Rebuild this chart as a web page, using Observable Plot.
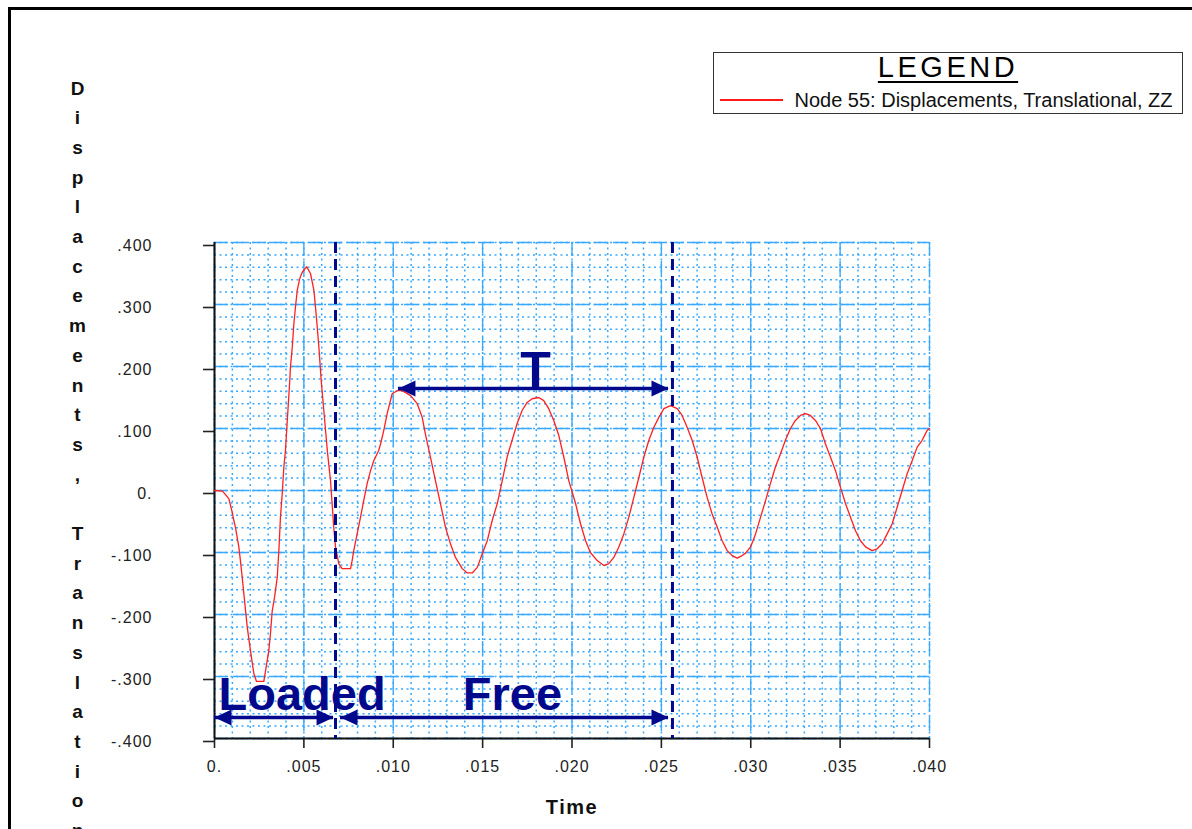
<!DOCTYPE html>
<html>
<head>
<meta charset="utf-8">
<script src="https://cdn.jsdelivr.net/npm/d3@7"></script>
<script src="https://cdn.jsdelivr.net/npm/@observablehq/plot@0.6"></script>
<style>
  html, body { margin: 0; padding: 0; background: #fff; }
  #wrap { position: relative; width: 1192px; height: 829px; overflow: hidden; font-family: "Liberation Sans", Arial, sans-serif; }
  #chart { position: absolute; left: 0; top: 0; }
  #frame { position: absolute; left: 8px; top: 7px; width: 1200px; height: 840px; border-left: 3px solid #000; border-top: 3px solid #000; pointer-events: none; }
  #legend { position: absolute; left: 713px; top: 52px; width: 468px; height: 60px; border: 1.5px solid #333; background: #fff; }
  #legend .title { position: absolute; left: 0; top: 0; width: 100%; text-align: center; font-size: 29px; line-height: 29px; letter-spacing: 3.5px; color: #000; }
  #legend .title span { text-decoration: underline; text-decoration-thickness: 2px; text-underline-offset: 4px; }
  #legend .swatch { position: absolute; left: 5.5px; top: 46px; width: 63px; height: 1.5px; background: #ff1a1a; }
  #legend .label { position: absolute; left: 80.5px; top: 36.5px; font-size: 20px; line-height: 20px; color: #111; white-space: nowrap; }
</style>
</head>
<body>
<div id="wrap">
  <div id="chart"></div>
  <div id="frame"></div>
  <div id="legend">
    <div class="title"><span>LEGEND</span></div>
    <div class="swatch"></div>
    <div class="label">Node 55: Displacements, Translational, ZZ</div>
  </div>
</div>
<script>
// ---- data ----
const time = [
  0, 0.00045, 0.00080, 0.00099, 0.00108, 0.00117, 0.00136, 0.00145, 0.00155, 0.00164,
  0.00183, 0.00201, 0.00220, 0.00235, 0.00276, 0.00304, 0.00313, 0.00323, 0.00336, 0.00351,
  0.00360, 0.00369, 0.00379, 0.00388, 0.00397, 0.00421, 0.00425, 0.00435, 0.00444, 0.00453,
  0.00463, 0.00477, 0.00491, 0.00515, 0.00537, 0.00556, 0.00565, 0.00575, 0.00584, 0.00593,
  0.00597, 0.00631, 0.00639, 0.00649, 0.00658, 0.00667, 0.00677, 0.00695, 0.00714, 0.00761,
  0.00770, 0.00779, 0.00798, 0.00817, 0.00835, 0.00854, 0.00873, 0.00891, 0.00919, 0.00929,
  0.00947, 0.00966, 0.00994, 0.01022, 0.01050, 0.01097, 0.01134, 0.01162, 0.01180, 0.01208,
  0.01236, 0.01264, 0.01292, 0.01320, 0.01348, 0.01386, 0.01414, 0.01442, 0.01470, 0.01498,
  0.01526, 0.01554, 0.01582, 0.01610, 0.01637, 0.01665, 0.01693, 0.01721, 0.01749, 0.01777,
  0.01814, 0.01842, 0.01870, 0.01898, 0.01926, 0.01954, 0.01982, 0.02020, 0.02048, 0.02076,
  0.02103, 0.02141, 0.02178, 0.02206, 0.02234, 0.02262, 0.02290, 0.02318, 0.02346, 0.02374,
  0.02402, 0.02430, 0.02458, 0.02486, 0.02514, 0.02551, 0.02589, 0.02616, 0.02644, 0.02672,
  0.02700, 0.02728, 0.02756, 0.02784, 0.02812, 0.02840, 0.02868, 0.02896, 0.02924, 0.02952,
  0.02971, 0.02999, 0.03027, 0.03055, 0.03083, 0.03110, 0.03138, 0.03166, 0.03194, 0.03222,
  0.03250, 0.03278, 0.03306, 0.03334, 0.03362, 0.03390, 0.03418, 0.03446, 0.03474, 0.03502,
  0.03530, 0.03558, 0.03586, 0.03614, 0.03642, 0.03679, 0.03707, 0.03735, 0.03763, 0.03791,
  0.03819, 0.03847, 0.03875, 0.03903, 0.03931, 0.03959, 0.03987, 0.04000
];
const displacementZZ = [
  0, -0.001, -0.013, -0.035, -0.048, -0.059, -0.091, -0.113, -0.140, -0.166,
  -0.220, -0.258, -0.295, -0.308, -0.308, -0.258, -0.231, -0.194, -0.172, -0.140,
  -0.097, -0.043, -0.005, 0.038, 0.065, 0.177, 0.199, 0.231, 0.269, 0.296,
  0.323, 0.342, 0.352, 0.361, 0.350, 0.323, 0.296, 0.263, 0.231, 0.194,
  0.177, 0.065, 0.043, 0.016, -0.021, -0.059, -0.091, -0.118, -0.126, -0.126,
  -0.113, -0.097, -0.070, -0.043, -0.016, 0.011, 0.032, 0.048, 0.065, 0.075,
  0.097, 0.124, 0.156, 0.161, 0.161, 0.153, 0.140, 0.118, 0.091, 0.054,
  0.016, -0.021, -0.059, -0.086, -0.108, -0.126, -0.133, -0.133, -0.124, -0.102,
  -0.081, -0.048, -0.021, 0.016, 0.054, 0.081, 0.108, 0.129, 0.142, 0.148,
  0.150, 0.145, 0.132, 0.113, 0.089, 0.054, 0.016, -0.021, -0.054, -0.081,
  -0.100, -0.113, -0.121, -0.118, -0.108, -0.091, -0.070, -0.043, -0.011, 0.021,
  0.054, 0.081, 0.102, 0.118, 0.132, 0.137, 0.132, 0.121, 0.102, 0.081,
  0.054, 0.021, -0.011, -0.038, -0.059, -0.081, -0.097, -0.105, -0.109, -0.105,
  -0.101, -0.091, -0.070, -0.043, -0.016, 0.011, 0.038, 0.059, 0.081, 0.100,
  0.113, 0.121, 0.124, 0.121, 0.113, 0.100, 0.075, 0.054, 0.032, 0.005,
  -0.021, -0.043, -0.065, -0.081, -0.091, -0.097, -0.094, -0.086, -0.070, -0.054,
  -0.027, 0.000, 0.027, 0.048, 0.070, 0.081, 0.097, 0.100
];

const xTicks = [0, 0.005, 0.010, 0.015, 0.020, 0.025, 0.030, 0.035, 0.040];
const xTickLabels = ["0.", ".005", ".010", ".015", ".020", ".025", ".030", ".035", ".040"];
const yTicks = [-0.4, -0.3, -0.2, -0.1, 0, 0.1, 0.2, 0.3, 0.4];
const yTickLabels = ["-.400", "-.300", "-.200", "-.100", "0.", ".100", ".200", ".300", ".400"];

const yTitle = "Displacements, Translation";
const xTitle = "Time";

// annotation values (data space)
const phaseBoundaries = [0.00677, 0.02562];
const spanNames = ["Loaded", "Free", "T"];
const spanStart = [0, 0.00705, 0.01029];
const spanEnd = [0.00666, 0.02540, 0.02540];
const spanLevel = [-0.366, -0.366, 0.1645];
const spanLabelTime = [0.0049, 0.01667, 0.01796];
const spanLabelLevel = [-0.329, -0.329, 0.192];
const spanLabelSize = [47, 47, 50];

// ---- build ----
const data = time.map((t, i) => ({t, v: displacementZZ[i]}));
const spans = spanNames.map((name, i) => ({name, t1: spanStart[i], t2: spanEnd[i], v: spanLevel[i]}));
const spanLabels = spanNames.map((name, i) => ({name, t: spanLabelTime[i], v: spanLabelLevel[i], size: spanLabelSize[i]}));
const minorX = d3.range(0, 41).map(i => i / 1000);
const minorY = d3.range(-20, 21).map(i => i / 50);

const gridBlue = "#39a9ff";
const navy = "#00088c";

const headRight = {
  draw(ctx) { ctx.moveTo(0, 0); ctx.lineTo(-17, -8); ctx.lineTo(-17, 8); ctx.closePath(); }
};

const chart = Plot.plot({
  width: 1192,
  height: 829,
  marginLeft: 214,
  marginRight: 263,
  marginTop: 242,
  marginBottom: 91,
  x: {domain: [0, 0.04]},
  y: {domain: [-0.4, 0.4]},
  style: {fontFamily: "'Liberation Sans', Arial, sans-serif", background: "transparent", overflow: "hidden"},
  marks: [
    Plot.ruleX(minorX, {stroke: gridBlue, strokeWidth: 1.5, strokeDasharray: "2,3.5"}),
    Plot.ruleY(minorY, {stroke: gridBlue, strokeWidth: 1.5, strokeDasharray: "2,3.5"}),
    Plot.ruleX(xTicks, {stroke: gridBlue, strokeWidth: 1.4, strokeDasharray: "14,5"}),
    Plot.ruleY(yTicks, {stroke: gridBlue, strokeWidth: 1.4, strokeDasharray: "14,5"}),
    Plot.axisX({ticks: xTicks, tickFormat: d => xTickLabels[xTicks.indexOf(d)], tickSize: 10, tickPadding: 12, fontSize: 16, color: "#222", strokeWidth: 1.6, label: null}),
    Plot.axisY({ticks: yTicks, tickFormat: d => yTickLabels[yTicks.indexOf(d)], tickSize: 11, tickPadding: 51, fontSize: 16, color: "#222", strokeWidth: 1.6, dy: 3, label: null}),
    Plot.ruleX([0], {stroke: "#111", strokeWidth: 2}),
    Plot.ruleY([-0.4], {stroke: "#111", strokeWidth: 2}),
    Plot.line(data, {x: "t", y: "v", stroke: "#ff2020", strokeWidth: 1.3}),
    Plot.ruleX(phaseBoundaries, {stroke: navy, strokeWidth: 3, strokeDasharray: "11,6"}),
    Plot.ruleY(spans, {x1: "t1", x2: "t2", y: "v", stroke: navy, strokeWidth: 3.5}),
    Plot.dot(spans, {x: "t2", y: "v", symbol: headRight, r: 5, fill: navy, stroke: "none"}),
    Plot.dot(spans, {x: "t1", y: "v", symbol: headRight, r: 5, fill: navy, stroke: "none", rotate: 180}),
    Plot.text(spanLabels, {x: "t", y: "v", text: "name", fontSize: d => d.size, fontWeight: "bold", fill: navy, lineAnchor: "middle", textAnchor: "middle"}),
    Plot.text([xTitle], {frameAnchor: "bottom", dy: 69, fontSize: 20, fontWeight: "bold", fill: "#111", lineAnchor: "middle"}),
    Plot.text([yTitle.split("").join("\n")], {frameAnchor: "top-left", dx: -137, dy: -169, fontSize: 19, fontWeight: "bold", fill: "#111", textAnchor: "middle", lineAnchor: "top", lineHeight: 1.563})
  ]
});

d3.select(chart).selectAll('g[aria-label="x-axis tick label"] text, g[aria-label="y-axis tick label"] text').style("letter-spacing", "1px");
d3.select(chart).selectAll('g[aria-label="text"]').filter(function(){ return this.textContent === xTitle; }).style("letter-spacing", "1.5px");
document.getElementById("chart").appendChild(chart);
</script>
</body>
</html>
